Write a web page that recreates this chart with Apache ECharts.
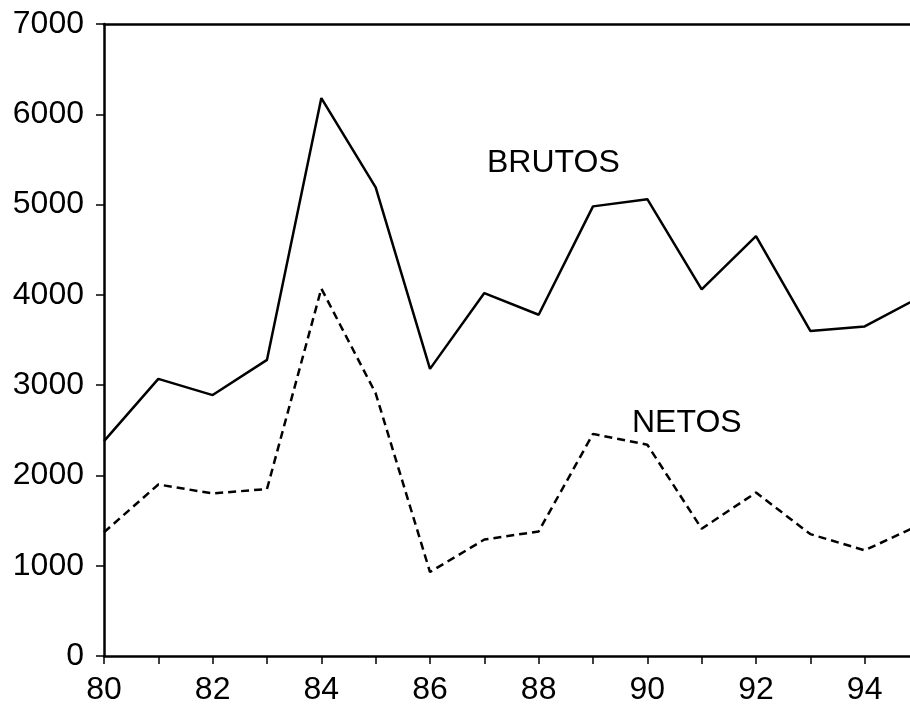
<!DOCTYPE html>
<html>
<head>
<meta charset="utf-8">
<script src="https://cdn.jsdelivr.net/npm/echarts@6/dist/echarts.min.js"></script>
<style>
  html, body { margin: 0; padding: 0; background: #fff; }
  #chart { width: 910px; height: 712px; }
</style>
</head>
<body>
<div id="chart"></div>
<script>
// años 1980-1995
var years = [80, 81, 82, 83, 84, 85, 86, 87, 88, 89, 90, 91, 92, 93, 94, 95];
var brutos = [2380, 3070, 2890, 3280, 6180, 5190, 3180, 4020, 3780, 4980, 5060, 4060, 4650, 3600, 3650, 3970];
var netos = [1370, 1900, 1800, 1850, 4070, 2910, 930, 1290, 1380, 2460, 2340, 1410, 1810, 1350, 1170, 1450];
var yTicks = [0, 1000, 2000, 3000, 4000, 5000, 6000, 7000];

function pairs(vals) {
  return years.map(function (y, i) { return [y, vals[i]]; });
}

var font = "'Liberation Sans', Arial, sans-serif";
var chart = echarts.init(document.getElementById("chart"));

chart.setOption({
  animation: false,
  backgroundColor: "#fff",
  grid: {
    left: 104,
    width: 815,   // el eje llega a 95 fuera del recorte
    top: 24,
    bottom: 56,
    outerBoundsMode: "none"
  },
  xAxis: [
    {
      type: "value",
      min: 80,
      max: 95,
      interval: 1,
      axisLine: { show: true, lineStyle: { color: "#000", width: 2.5 } },
      axisTick: { show: true, length: 8, lineStyle: { color: "#000", width: 1.5 } },
      axisLabel: {
        margin: 18,
        color: "#000",
        fontFamily: font,
        fontSize: 32,
        formatter: function (v) { return v % 2 === 0 ? String(v) : ""; }
      },
      splitLine: { show: false }
    },
    {
      // línea superior del marco
      type: "value",
      position: "top",
      min: 80,
      max: 95,
      axisLine: { show: true, onZero: false, lineStyle: { color: "#000", width: 2.5 } },
      axisTick: { show: false },
      axisLabel: { show: false },
      splitLine: { show: false }
    }
  ],
  yAxis: {
    type: "value",
    min: yTicks[0],
    max: yTicks[yTicks.length - 1],
    interval: 1000,
    axisLine: { show: true, lineStyle: { color: "#000", width: 2.5 } },
    axisTick: { show: true, length: 8, lineStyle: { color: "#000", width: 1.5 } },
    axisLabel: {
      margin: 20,
      color: "#000",
      fontFamily: font,
      fontSize: 32,
      formatter: function (v) { return String(v); }
    },
    splitLine: { show: false }
  },
  series: [
    {
      name: "BRUTOS",
      type: "line",
      data: pairs(brutos),
      showSymbol: false,
      lineStyle: { color: "#000", width: 2.5 }
    },
    {
      name: "NETOS",
      type: "line",
      data: pairs(netos),
      showSymbol: false,
      lineStyle: { color: "#000", width: 2.5, type: [8, 5] }
    }
  ],
  graphic: [
    {
      type: "text",
      left: 487, top: 147,
      style: { text: "BRUTOS", fill: "#000", font: "32px " + font }
    },
    {
      type: "text",
      left: 632, top: 407,
      style: { text: "NETOS", fill: "#000", font: "32px " + font }
    }
  ]
});
</script>
</body>
</html>
